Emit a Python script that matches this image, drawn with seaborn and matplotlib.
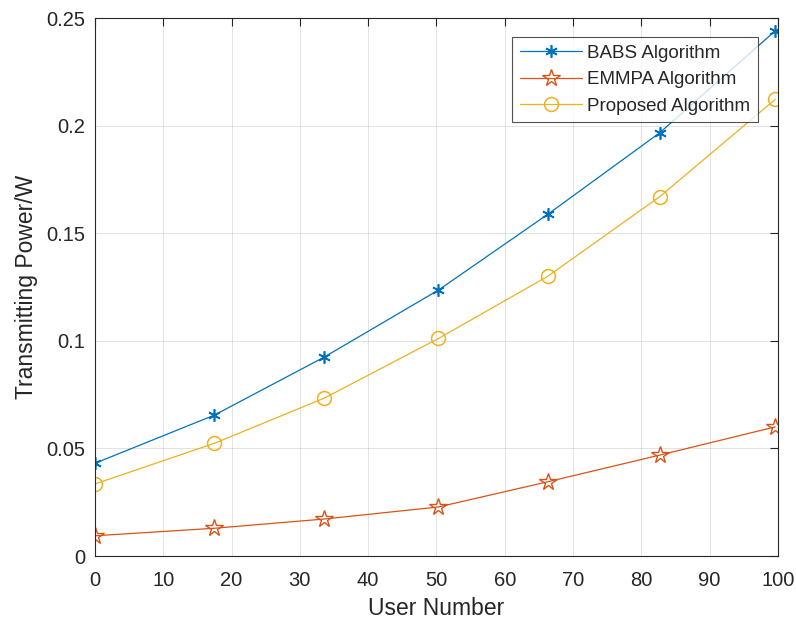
import pandas as pd
import seaborn as sns
import matplotlib.pyplot as plt

# values
user_number = [0, 17.5, 33.6, 50.3, 66.3, 82.7, 99.6]
babs = [0.0431, 0.0655, 0.0925, 0.1236, 0.1588, 0.1967, 0.2440]
emmpa = [0.0094, 0.0129, 0.0172, 0.0228, 0.0345, 0.0469, 0.0600]
proposed = [0.0335, 0.0524, 0.0734, 0.1011, 0.1300, 0.1670, 0.2122]

x_ticks = [0, 10, 20, 30, 40, 50, 60, 70, 80, 90, 100]
y_ticks = [0, 0.05, 0.1, 0.15, 0.2, 0.25]
y_tick_labels = ['0', '0.05', '0.1', '0.15', '0.2', '0.25']

df = pd.DataFrame({'x': user_number, 'BABS': babs, 'EMMPA': emmpa, 'Proposed': proposed})

sns.set_theme(style='white')
plt.rcParams['font.family'] = ['Liberation Sans', 'DejaVu Sans']

fig = plt.figure(figsize=(7.96, 6.2), dpi=100)
ax = fig.add_axes([0.1193, 0.1032, 0.858, 0.8677])

sns.lineplot(data=df, x='x', y='BABS', ax=ax, color='#0072BD', lw=0.9,
             marker=(6, 2, 0), markersize=9, markeredgewidth=1.2,
             markeredgecolor='#0072BD', label='BABS Algorithm')
sns.lineplot(data=df, x='x', y='EMMPA', ax=ax, color='#D95319', lw=0.9,
             marker='*', markersize=13, markerfacecolor='none', markeredgewidth=1.0,
             markeredgecolor='#D95319', label='EMMPA Algorithm')
sns.lineplot(data=df, x='x', y='Proposed', ax=ax, color='#EDB120', lw=0.9,
             marker='o', markersize=10, markerfacecolor='none', markeredgewidth=1.1,
             markeredgecolor='#EDB120', label='Proposed Algorithm')

ax.set_xlim(0, 100)
ax.set_ylim(0, 0.25)
ax.set_xticks(x_ticks)
ax.set_xticklabels([str(t) for t in x_ticks])
ax.set_yticks(y_ticks)
ax.set_yticklabels(y_tick_labels)
ax.grid(True, color='#262626', alpha=0.15, lw=0.6)
ax.tick_params(direction='in', length=6, width=0.8, colors='#262626',
               labelsize=14.5, top=True, right=True)
ax.tick_params(axis='x', pad=11)
ax.tick_params(axis='y', pad=7)
for s in ax.spines.values():
    s.set_color('#262626')
    s.set_linewidth(0.8)

ax.set_xlabel('User Number', fontsize=16.5, color='#262626', labelpad=5)
ax.set_ylabel('Transmitting Power/W', fontsize=16.5, color='#262626', labelpad=6)

leg = ax.legend(loc='upper right', bbox_to_anchor=(0.9707, 0.9647), borderaxespad=0,
                fontsize=13.5, frameon=True, fancybox=False, edgecolor='#262626',
                handlelength=3.3, borderpad=0.4, labelspacing=0.5,
                handletextpad=0.3)
leg.get_frame().set_linewidth(0.8)

fig.savefig('out.png', dpi=100)
